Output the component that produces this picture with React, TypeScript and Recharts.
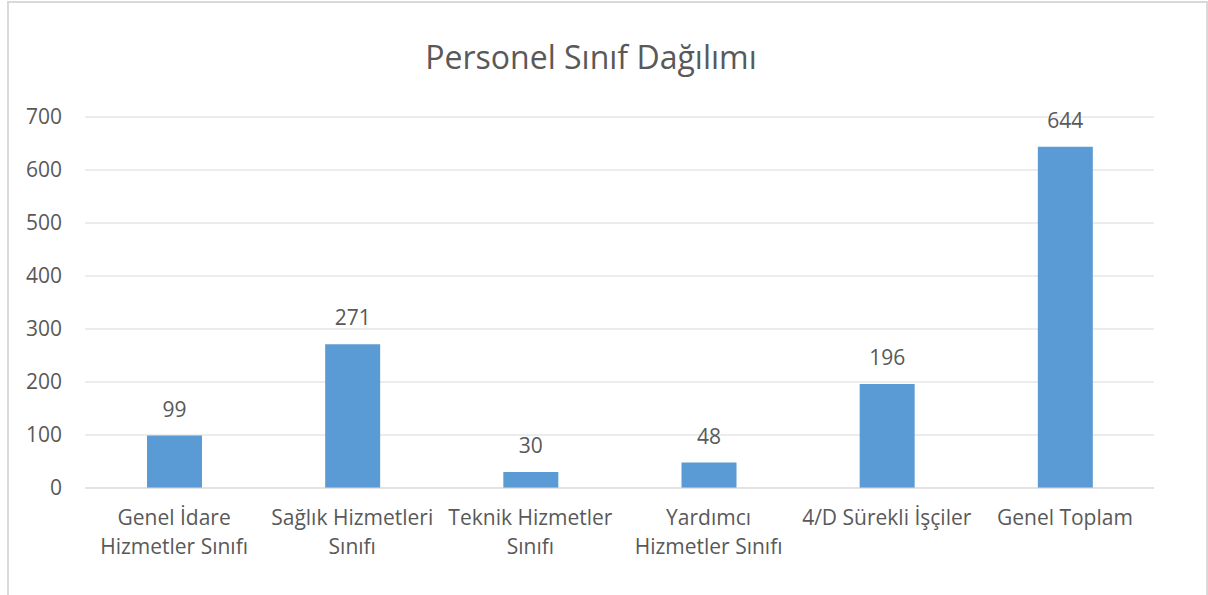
import { BarChart, Bar, XAxis, YAxis, CartesianGrid, LabelList } from 'recharts'

const categories = ['Genel İdare\nHizmetler Sınıfı', 'Sağlık Hizmetleri\nSınıfı', 'Teknik Hizmetler\nSınıfı', 'Yardımcı\nHizmetler Sınıfı', '4/D Sürekli İşçiler', 'Genel Toplam']
const counts = [99, 271, 30, 48, 196, 644]
const yTicks = [0, 100, 200, 300, 400, 500, 600, 700]

const data = categories.map((c, i) => ({ name: c, value: counts[i] }))

const font = '"Open Sans", sans-serif'
const grey = '#595959'

const CatTick = ({ x, y, payload }: any) => {
  const lines = String(payload.value).split('\n')
  return (
    <text x={x} y={y} textAnchor="middle" fill={grey} fontSize={21} fontFamily={font}>
      {lines.map((l, i) => (
        <tspan key={i} x={x} dy={i === 0 ? 29 : 29}>{l}</tspan>
      ))}
    </text>
  )
}

export default function App() {
  return (
    <div style={{ position: 'absolute', left: 0, top: 0, width: 1208, height: 595, overflow: 'hidden', background: '#fff' }}>
      <div style={{ position: 'absolute', left: 7, top: 1, width: 1197, height: 620, border: '2px solid #d9d9d9', background: '#fff' }}>
        <div style={{ position: 'absolute', left: 0, top: 32, width: 1164, textAlign: 'center', fontFamily: font, fontSize: 32, color: grey, lineHeight: '44px' }}>
          Personel Sınıf Dağılımı
        </div>
        <BarChart width={1197} height={620} data={data} margin={{ top: 114, right: 52, left: 0, bottom: 0 }}>
          <CartesianGrid vertical={false} stroke="#d9d9d9" />
          <XAxis dataKey="name" height={135} interval={0} tickLine={false} axisLine={{ stroke: '#d9d9d9' }} tick={<CatTick />} />
          <YAxis width={76} domain={[0, 700]} ticks={yTicks} tickLine={false} axisLine={false} tickSize={0} tickMargin={23}
            tick={{ fill: grey, fontSize: 21, fontFamily: font }} />
          <Bar dataKey="value" fill="#5b9bd5" barSize={55} isAnimationActive={false}>
            <LabelList dataKey="value" position="top" offset={19} fill={grey} fontSize={21} fontFamily={font} />
          </Bar>
        </BarChart>
      </div>
    </div>
  )
}
